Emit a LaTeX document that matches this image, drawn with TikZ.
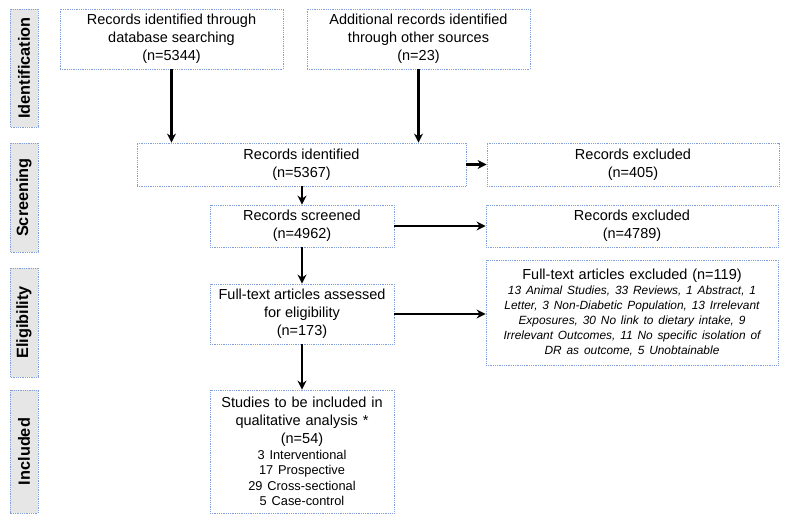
\documentclass[tikz,border=0pt]{standalone}
\usepackage{fontspec}
\setmainfont{Liberation Sans}
\usetikzlibrary{arrows.meta}
\definecolor{bordblue}{RGB}{130,160,220}
\definecolor{sidegray}{RGB}{230,230,230}
\tikzset{
  box/.style={draw=bordblue, densely dotted, line width=0.8pt, inner sep=0pt, align=center,
    font=\fontsize{14.5}{18}\selectfont},
  side/.style={box, fill=sidegray, rotate=90, font=\fontsize{16.3}{18}\selectfont\bfseries},
  arr/.style={line width=2.6pt, -{Stealth[length=9pt,width=9pt]}, solid, black}
}
\begin{document}
\begin{tikzpicture}[x=1pt,y=1pt]
\useasboundingbox (0,0) rectangle (791,-523);
% side labels
\node[side, minimum width=118, minimum height=28] (s1) at (24,-68) {Identification};
\node[side, minimum width=109, minimum height=28] (s2) at (24,-197.5) {Screening};
\node[side, minimum width=109, minimum height=28] (s3) at (24,-322.5) {Eligibility};
\node[side, minimum width=123, minimum height=28] (s4) at (24,-451.5) {Included};
% boxes
\node[box, minimum width=223, minimum height=60] (db) at (171.5,-39) {Records identified through\\database searching\\(n=5344)};
\node[box, minimum width=223, minimum height=60] (add) at (418.5,-39) {Additional records identified\\through other sources\\(n=23)};
\node[box, minimum width=329, minimum height=43] (rid) at (301.5,-164.5) {Records identified\\(n=5367)};
\node[box, minimum width=292, minimum height=43] (ex1) at (633,-164.5) {Records excluded\\(n=405)};
\node[box, minimum width=184, minimum height=42] (scr) at (302,-226) {Records screened\\(n=4962)};
\node[box, minimum width=292, minimum height=42] (ex2) at (632,-226) {Records excluded\\(n=4789)};
\node[box, minimum width=184, minimum height=60] (ft) at (302,-314) {Full-text articles assessed\\for eligibility\\(n=173)};
\node[box, minimum width=292, minimum height=105, text width=290] (ex3) at (632,-312.5)
  {Full-text articles excluded (n=119)\par
   {\fontsize{11.9}{15}\selectfont\itshape 13 Animal Studies, 33 Reviews, 1 Abstract, 1\\
   Letter, 3 Non-Diabetic Population, 13 Irrelevant\\
   Exposures, 30 No link to dietary intake, 9\\
   Irrelevant Outcomes, 11 No specific isolation of\\
   DR as outcome, 5 Unobtainable\par}};
\node[box, minimum width=184, minimum height=123, text width=182] (inc) at (302,-451.5)
  {Studies to be included in\\qualitative analysis *\\(n=54)\par
   {\fontsize{12.8}{15.6}\selectfont 3 Interventional\\17 Prospective\\29 Cross-sectional\\5 Case-control\par}};
% arrows
\draw[arr] (db.south) -- (db.south |- rid.north);
\draw[arr] (add.south) -- (add.south |- rid.north);
\draw[arr] (rid.east) -- (ex1.west);
\draw[arr] (scr.north |- rid.south) -- (scr.north);
\draw[arr] (scr.east) -- (scr.east -| ex2.west);
\draw[arr] (scr.south) -- (ft.north);
\draw[arr] (ft.east) -- (ft.east -| ex3.west);
\draw[arr] (ft.south) -- (inc.north);
\end{tikzpicture}
\end{document}
